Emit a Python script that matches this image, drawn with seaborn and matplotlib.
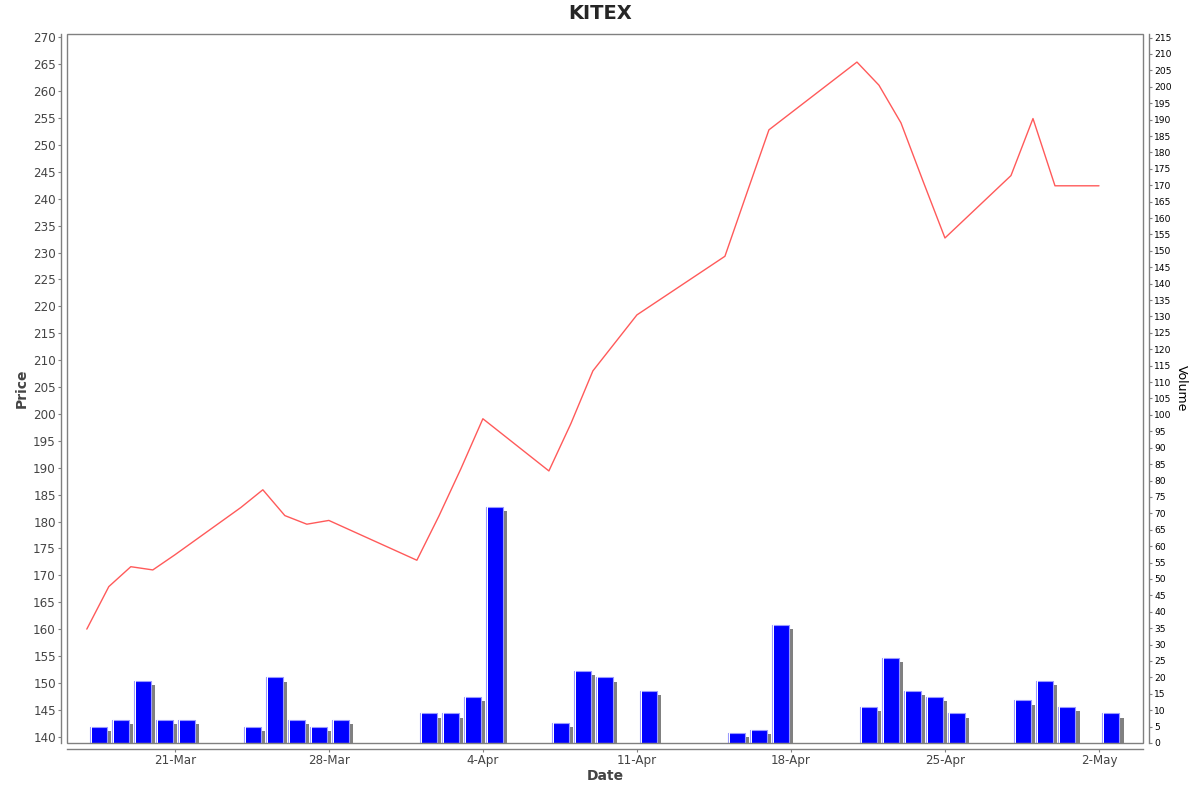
import numpy as np
import pandas as pd
import matplotlib
matplotlib.use('Agg')
import matplotlib.pyplot as plt
import matplotlib.dates as mdates
from matplotlib.ticker import MultipleLocator
from matplotlib.patches import Rectangle
import matplotlib.patheffects as pe
import seaborn as sns

dates = ['2025-03-17', '2025-03-18', '2025-03-19', '2025-03-20', '2025-03-21',
         '2025-03-24', '2025-03-25', '2025-03-26', '2025-03-27', '2025-03-28',
         '2025-04-01', '2025-04-02', '2025-04-03', '2025-04-04',
         '2025-04-07', '2025-04-08', '2025-04-09', '2025-04-11',
         '2025-04-15', '2025-04-16', '2025-04-17',
         '2025-04-21', '2025-04-22', '2025-04-23', '2025-04-24', '2025-04-25',
         '2025-04-28', '2025-04-29', '2025-04-30', '2025-05-02']
prices = [160.0, 167.9, 171.6, 171.0, 173.8,
          182.6, 185.9, 181.1, 179.5, 180.2,
          172.8, 181.0, 189.8, 199.1,
          189.4, 198.2, 208.0, 218.4,
          229.3, 241.1, 252.8,
          265.4, 261.1, 254.1, 243.3, 232.7,
          244.3, 254.9, 242.4, 242.4]
volumes = [5, 7, 19, 7, 7,
           5, 20, 7, 5, 7,
           9, 9, 14, 72,
           6, 22, 20, 16,
           3, 4, 36,
           11, 26, 16, 14, 9,
           13, 19, 11, 9]
title = 'KITEX'

sns.set_style('white')
plt.rcParams['font.family'] = ['DejaVu Sans']

df = pd.DataFrame({'Date': pd.to_datetime(dates), 'Price': prices, 'Volume': volumes})

fig = plt.figure(figsize=(12, 7.92), dpi=100)
ax = fig.add_axes([67/1200, 1-743/792, 1076/1200, 708.7/792])
ax2 = ax.twinx()

# price line
sns.lineplot(data=df, x='Date', y='Price', ax=ax, color='#ff5a5a', linewidth=1.0)

# volume bars with shadow
shadow = [pe.SimplePatchShadow(offset=(3.0, -3.0), shadow_rgbFace='#808080', alpha=1.0), pe.Normal()]
ax2.bar(df['Date'] + pd.Timedelta(hours=3.0), df['Volume'], width=0.8, align='edge',
        color='#0000ff', edgecolor='#9a9aff', linewidth=0.8, path_effects=shadow)
ax2.bar(df['Date'] + pd.Timedelta(hours=4.3), df['Volume'], width=0.05, align='edge',
        color='white', linewidth=0)

ax.set_xlim(df['Date'].iloc[0] - pd.Timedelta(days=0.9), df['Date'].iloc[-1] + pd.Timedelta(days=2.0))
ax.set_ylim(138.83, 270.56)
ax2.set_ylim(0, 216)

ax.yaxis.set_major_locator(MultipleLocator(5))
ax2.yaxis.set_major_locator(MultipleLocator(5))
ax.xaxis.set_major_locator(mdates.WeekdayLocator(byweekday=mdates.FR))
ax.xaxis.set_major_formatter(mdates.DateFormatter('%-d-%b'))

gray = '#808080'
for s in ['top', 'right']:
    ax.spines[s].set_visible(False)
ax.spines['left'].set_position(('outward', 4))
ax.spines['bottom'].set_position(('outward', 4))
for s in ['left', 'bottom']:
    ax.spines[s].set_color(gray)
    ax.spines[s].set_linewidth(1)
for s in ['left', 'top', 'bottom']:
    ax2.spines[s].set_visible(False)
ax2.spines['right'].set_position(('outward', 4))
ax2.spines['right'].set_color(gray)
ax2.spines['right'].set_linewidth(1)
ax2.add_patch(Rectangle((0, 0), 1, 1, transform=ax2.transAxes, fill=False,
                        edgecolor=gray, linewidth=1, clip_on=False, zorder=10))

ax.tick_params(axis='y', which='major', left=True, length=2, width=0.8, color=gray,
               labelsize=8.6, labelcolor='#444444', pad=2)
ax.tick_params(axis='x', which='major', bottom=True, length=2, width=0.8, color=gray,
               labelsize=8.6, labelcolor='#444444', pad=2)
ax2.tick_params(axis='y', which='major', right=True, length=2, width=0.8, color=gray,
                labelsize=6.6, labelcolor='black', pad=2)

ax.set_xlabel('Date', fontsize=10, fontweight='bold', color='#444444')
ax.set_ylabel('Price', fontsize=10, fontweight='bold', color='#444444')
ax2.set_ylabel('Volume', fontsize=9, color='black', rotation=270)
ax.xaxis.set_label_coords(0.5, -0.036)
ax.yaxis.set_label_coords(-0.036, 0.5)
ax2.yaxis.set_label_coords(1.0355, 0.5)
ax2.yaxis.label.set_verticalalignment('center')
ax2.yaxis.label.set_horizontalalignment('center')

fig.suptitle(title, y=1 - 4/792, va='top', fontsize=14, fontweight='bold')

fig.savefig('out.png', dpi=100)
